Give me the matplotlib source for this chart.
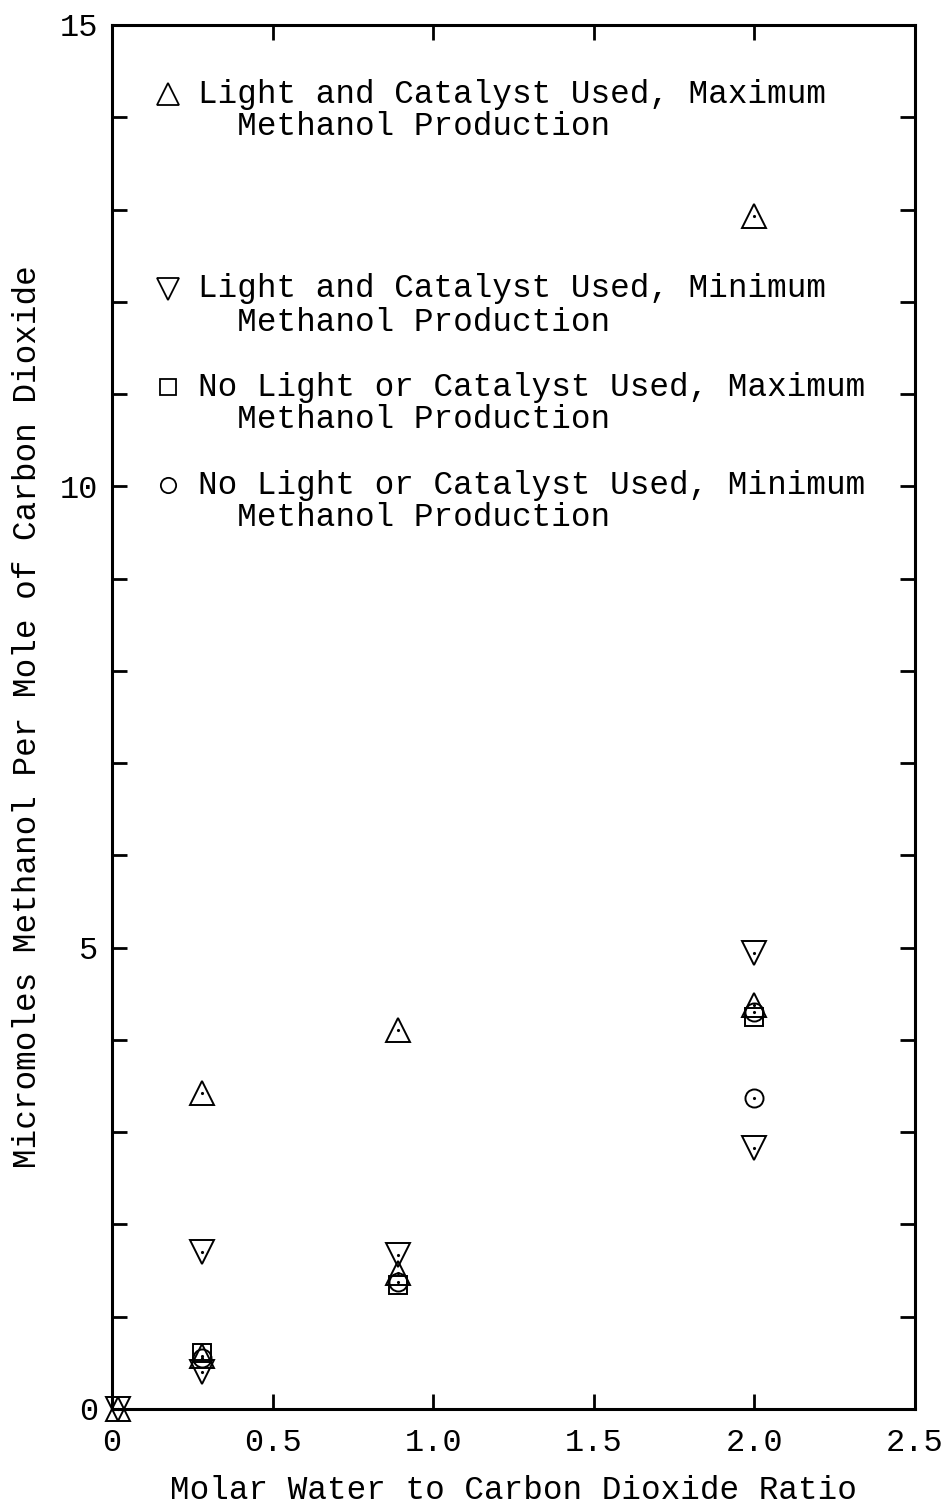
import matplotlib
matplotlib.use("Agg")
import matplotlib.pyplot as plt
from matplotlib.ticker import MultipleLocator, FixedLocator, FixedFormatter

# ---- data ----
tri_up_x = [0.02, 0.28, 0.28, 0.89, 0.89, 2.0, 2.0]
tri_up_y = [0.0, 3.43, 0.57, 4.11, 1.47, 12.93, 4.38]

tri_dn_x = [0.02, 0.28, 0.28, 0.89, 2.0, 2.0]
tri_dn_y = [0.0, 1.70, 0.40, 1.67, 4.94, 2.83]

sq_x = [0.28, 0.89, 2.0]
sq_y = [0.61, 1.34, 4.25]

circ_x = [0.28, 0.89, 2.0, 2.0]
circ_y = [0.55, 1.38, 4.30, 3.37]

x_ticks = [0, 0.5, 1.0, 1.5, 2.0, 2.5]
x_tick_labels = ["0", "0.5", "1.0", "1.5", "2.0", "2.5"]
y_ticks = [0, 5, 10, 15]
y_tick_labels = ["0", "5", "10", "15"]

legend_labels = [
    ("Light and Catalyst Used, Maximum", "  Methanol Production"),
    ("Light and Catalyst Used, Minimum", "  Methanol Production"),
    ("No Light or Catalyst Used, Maximum", "  Methanol Production"),
    ("No Light or Catalyst Used, Minimum", "  Methanol Production"),
]
legend_markers = ["^", "v", "s", "o"]

plt.rcParams["font.family"] = ["Liberation Mono", "DejaVu Sans Mono", "DejaVu Sans"]

fig = plt.figure(figsize=(9.41, 15.07), dpi=100)
ax = fig.add_axes([112 / 941, 98 / 1507, 803 / 941, 1384 / 1507])

mk = dict(linestyle="none", markerfacecolor="none", markeredgecolor="black",
          markeredgewidth=1.4, clip_on=False, zorder=3)
ax.plot(tri_up_x, tri_up_y, marker="^", markersize=17, **mk)
ax.plot(tri_dn_x, tri_dn_y, marker="v", markersize=17, **mk)
ax.plot(sq_x, sq_y, marker="s", markersize=13, **mk)
ax.plot(circ_x, circ_y, marker="o", markersize=13, **mk)
# centre dots seen on the scanned markers
for xs, ys in [(tri_up_x, tri_up_y), (tri_dn_x, tri_dn_y), (circ_x, circ_y)]:
    ax.plot(xs, ys, linestyle="none", marker=".", markersize=2.5, color="black",
            clip_on=False, zorder=4)

ax.set_xlim(0, 2.5)
ax.set_ylim(0, 15)

ax.xaxis.set_major_locator(FixedLocator(x_ticks))
ax.xaxis.set_major_formatter(FixedFormatter(x_tick_labels))
ax.yaxis.set_major_locator(FixedLocator(y_ticks))
ax.yaxis.set_major_formatter(FixedFormatter(y_tick_labels))
ax.yaxis.set_minor_locator(MultipleLocator(1))

ax.tick_params(axis="both", which="both", direction="in", length=11, width=2.0,
               top=True, right=True, labelsize=23, colors="black")
ax.tick_params(axis="x", which="major", pad=14)
ax.tick_params(axis="y", which="major", pad=10)
for s in ax.spines.values():
    s.set_linewidth(2.2)

ax.set_xlabel("Molar Water to Carbon Dioxide Ratio", fontsize=23.5, labelpad=12)
ax.set_ylabel("Micromoles Methanol Per Mole of Carbon Dioxide", fontsize=23.5,
              labelpad=12)

# legend, drawn as text + marker keys
entry_y = [(0.9501, 0.9270), (0.8093, 0.7854), (0.7384, 0.7153), (0.6676, 0.6445)]
key_ms = {"^": 16, "v": 16, "s": 11, "o": 11}
for (l1, l2), (y1, y2), m in zip(legend_labels, entry_y, legend_markers):
    ax.plot([0.0697], [y1], transform=ax.transAxes, marker=m,
            markersize=key_ms[m], linestyle="none", markerfacecolor="none",
            markeredgecolor="black", markeredgewidth=1.3, clip_on=False)
    ax.text(0.1071, y1, l1, transform=ax.transAxes, fontsize=23.5,
            va="center", ha="left")
    ax.text(0.1071, y2, l2, transform=ax.transAxes, fontsize=23.5,
            va="center", ha="left")

fig.savefig("out.png", dpi=100, facecolor="white")
